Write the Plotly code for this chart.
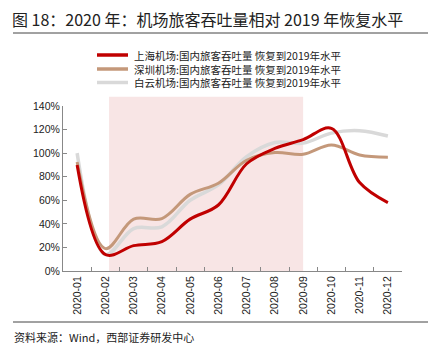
import plotly.graph_objects as go

months = ["2020-01", "2020-02", "2020-03", "2020-04", "2020-05", "2020-06",
          "2020-07", "2020-08", "2020-09", "2020-10", "2020-11", "2020-12"]
names = ["上海机场:国内旅客吞吐量 恢复到2019年水平",
         "深圳机场:国内旅客吞吐量 恢复到2019年水平",
         "白云机场:国内旅客吞吐量 恢复到2019年水平"]
shanghai = [90, 14, 21.5, 25, 44, 56, 91, 104, 111.5, 121, 75, 58]
shenzhen = [92.5, 19, 44, 44.5, 65, 74.5, 94, 100.5, 99, 107, 98.5, 96.5]
baiyun = [100, 14, 36, 37.5, 60, 73, 97, 109, 108.5, 117, 119, 114.5]
colors = ["#C00000", "#C4987A", "#D9D9D9"]
widths = [3, 3, 3.5]
series = [shanghai, shenzhen, baiyun]
yticks = [0, 20, 40, 60, 80, 100, 120, 140]
shade_range = [1.13, 8.0]

FONT = "Liberation Sans, Arial, Noto Sans CJK SC, sans-serif"
CJK = "Noto Sans CJK SC, Liberation Sans, sans-serif"

W, H = 439, 360
L, R, T, B = 63, 37, 106, 89
pw, ph = W - L - R, H - T - B


def px_x(px):
    return (px - L) / pw


def px_y(py):
    return (H - B - py) / ph


fig = go.Figure()
for idx in [2, 1, 0]:
    fig.add_trace(go.Scatter(
        x=months, y=series[idx], mode="lines", name=names[idx],
        line=dict(color=colors[idx], width=widths[idx], shape="spline", smoothing=1.0),
        showlegend=False, hoverinfo="skip"))

shapes = []
# shaded period
shapes.append(dict(type="rect", xref="x", yref="paper", x0=shade_range[0], x1=shade_range[1],
                   y0=0, y1=px_y(96.7), fillcolor="#F8E5E5", line=dict(width=0), layer="below"))
# title underline & bottom line
shapes.append(dict(type="line", xref="paper", yref="paper", x0=px_x(13), x1=px_x(428),
                   y0=px_y(33), y1=px_y(33), line=dict(color="#444444", width=1)))
shapes.append(dict(type="line", xref="paper", yref="paper", x0=px_x(13), x1=px_x(428),
                   y0=px_y(322), y1=px_y(322), line=dict(color="#444444", width=1)))

annotations = []
leg_y = [55, 69, 82.5]
for i, nm in enumerate(names):
    shapes.append(dict(type="line", xref="paper", yref="paper", x0=px_x(97), x1=px_x(128),
                       y0=px_y(leg_y[i]), y1=px_y(leg_y[i]),
                       line=dict(color=colors[i], width=3.5)))
annotations.append(dict(text="<br>".join(names), xref="paper", yref="paper",
                        x=px_x(132), y=px_y(leg_y[1]), xanchor="left", yanchor="middle",
                        align="left", showarrow=False,
                        font=dict(family=CJK, size=10.5, color="#222222")))

annotations.append(dict(text="资料来源：Wind，西部证券研发中心", xref="paper", yref="paper",
                        x=px_x(12), y=px_y(337), xanchor="left", yanchor="middle",
                        showarrow=False, font=dict(family=CJK, size=11, color="#222222")))

fig.update_layout(
    width=W, height=H,
    margin=dict(l=L, r=R, t=T, b=B, pad=0),
    paper_bgcolor="white", plot_bgcolor="white",
    title=dict(text="图 18：2020 年：机场旅客吞吐量相对 2019 年恢复水平",
               xref="container", yref="container", x=12 / W, y=1 - 20 / H,
               xanchor="left", yanchor="middle",
               font=dict(family=CJK, size=16, color="#222222")),
    shapes=shapes, annotations=annotations,
    xaxis=dict(type="category", categoryorder="array", categoryarray=months,
               range=[-0.5, 11.5], tickson="boundaries", ticks="inside", ticklen=4,
               tickcolor="#888888", showline=True, linecolor="#888888", linewidth=1,
               showgrid=False, zeroline=False, tickangle=-90,
               tickfont=dict(family=FONT, size=10.5, color="#222222")),
    yaxis=dict(range=[0, 140], tickvals=yticks, ticktext=[f"{v}%" for v in yticks],
               ticks="inside", ticklen=4, tickcolor="#888888", showline=True,
               linecolor="#888888", linewidth=1, showgrid=False, zeroline=False,
               tickfont=dict(family=FONT, size=10.5, color="#222222")),
)

fig.write_html("out.html", config={"displayModeBar": False},
               post_script="document.body.style.margin='0';")
